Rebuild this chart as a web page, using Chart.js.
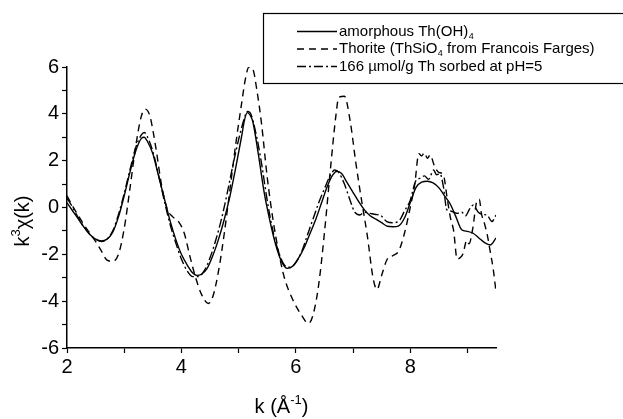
<!DOCTYPE html>
<html>
<head>
<meta charset="utf-8">
<script src="https://cdn.jsdelivr.net/npm/chart.js@4.4.1/dist/chart.umd.min.js"></script>
<style>
  body { margin: 0; background: #fff; }
  #wrap { width: 623px; height: 419px; }
</style>
</head>
<body>
<div id="wrap"><canvas id="exafsChart" width="623" height="419"></canvas></div>
<script>
// k values and k^3 chi(k)
const amorphousK = [2.0, 2.1, 2.2, 2.3, 2.4, 2.5, 2.6, 2.7, 2.8, 2.9, 3.0, 3.1, 3.2, 3.3, 3.35, 3.4, 3.5, 3.6, 3.7, 3.8, 3.9, 4.0, 4.1, 4.2, 4.27, 4.35, 4.45, 4.55, 4.65, 4.75, 4.85, 4.95, 5.05, 5.1, 5.15, 5.2, 5.25, 5.35, 5.45, 5.55, 5.65, 5.75, 5.85, 5.95, 6.05, 6.15, 6.25, 6.35, 6.45, 6.55, 6.65, 6.72, 6.8, 6.9, 7.0, 7.1, 7.2, 7.3, 7.4, 7.5, 7.6, 7.7, 7.8, 7.9, 8.0, 8.1, 8.2, 8.3, 8.4, 8.5, 8.6, 8.7, 8.8, 8.9, 9.0, 9.1, 9.2, 9.3, 9.4, 9.5];
const amorphousY = [0.2, -0.15, -0.5, -0.85, -1.15, -1.35, -1.43, -1.35, -1.05, -0.4, 0.5, 1.5, 2.4, 2.95, 3.0, 2.85, 2.3, 1.35, 0.4, -0.55, -1.35, -2.0, -2.45, -2.8, -2.9, -2.85, -2.6, -2.05, -1.35, -0.5, 0.5, 1.7, 3.0, 3.7, 4.05, 3.95, 3.65, 2.2, 0.6, -0.6, -1.6, -2.3, -2.6, -2.5, -2.15, -1.7, -1.1, -0.5, 0.2, 0.9, 1.4, 1.55, 1.45, 1.05, 0.65, 0.25, -0.1, -0.35, -0.5, -0.65, -0.8, -0.82, -0.78, -0.45, 0.2, 0.85, 1.08, 1.12, 1.05, 0.85, 0.5, 0.15, -0.4, -0.95, -1.02, -1.1, -1.3, -1.5, -1.6, -1.3];

const thoriteK = [2.0, 2.1, 2.2, 2.3, 2.4, 2.5, 2.6, 2.7, 2.8, 2.9, 3.0, 3.1, 3.2, 3.3, 3.37, 3.45, 3.55, 3.65, 3.75, 3.85, 3.95, 4.05, 4.15, 4.25, 4.35, 4.47, 4.55, 4.65, 4.75, 4.85, 4.95, 5.05, 5.12, 5.18, 5.25, 5.32, 5.4, 5.5, 5.6, 5.7, 5.8, 5.95, 6.1, 6.22, 6.3, 6.4, 6.5, 6.6, 6.7, 6.75, 6.85, 6.95, 7.05, 7.15, 7.25, 7.35, 7.42, 7.5, 7.6, 7.7, 7.8, 7.9, 8.0, 8.08, 8.15, 8.2, 8.25, 8.3, 8.35, 8.42, 8.5, 8.58, 8.64, 8.7, 8.76, 8.82, 8.87, 8.92, 8.99, 9.03, 9.09, 9.17, 9.21, 9.24, 9.3, 9.35, 9.4, 9.45, 9.5];
const thoriteY = [0.5, 0.05, -0.35, -0.75, -1.1, -1.45, -1.85, -2.25, -2.3, -2.0, -0.9, 0.8, 2.6, 3.9, 4.2, 3.9, 2.6, 1.0, -0.05, -0.4, -0.6, -1.1, -2.1, -3.0, -3.7, -4.1, -3.8, -2.7, -1.1, 0.8, 2.7, 4.4, 5.5, 6.0, 5.9, 5.0, 3.6, 1.3, -0.5, -1.9, -3.0, -3.95, -4.6, -4.95, -4.6, -3.3, -1.1, 1.5, 3.9, 4.7, 4.75, 3.7, 1.9, 0.3, -1.2, -3.0, -3.5, -2.9, -2.2, -2.05, -1.85, -1.1, 0.0, 1.0, 2.3, 2.2, 2.35, 2.1, 2.25, 1.8, 1.5, 1.4, 0.5, -0.4, -1.0, -2.2, -2.15, -2.0, -1.4, -1.55, -0.95, 0.3, 0.35, -0.2, -0.7, -1.2, -1.9, -2.6, -3.6];

const sorbedK = [2.0, 2.1, 2.2, 2.3, 2.4, 2.5, 2.6, 2.7, 2.8, 2.9, 3.0, 3.1, 3.2, 3.3, 3.35, 3.4, 3.5, 3.6, 3.7, 3.8, 3.9, 4.0, 4.1, 4.2, 4.3, 4.4, 4.5, 4.6, 4.7, 4.8, 4.9, 5.0, 5.1, 5.15, 5.2, 5.3, 5.4, 5.5, 5.6, 5.7, 5.8, 5.9, 6.0, 6.1, 6.2, 6.3, 6.4, 6.5, 6.6, 6.68, 6.75, 6.85, 6.95, 7.03, 7.12, 7.2, 7.3, 7.4, 7.47, 7.59, 7.7, 7.82, 7.9, 8.0, 8.09, 8.17, 8.25, 8.32, 8.41, 8.46, 8.52, 8.58, 8.64, 8.7, 8.82, 8.9, 8.97, 9.03, 9.1, 9.19, 9.27, 9.34, 9.43, 9.5];
const sorbedY = [0.4, 0.0, -0.45, -0.85, -1.15, -1.35, -1.45, -1.35, -1.0, -0.3, 0.6, 1.6, 2.55, 3.1, 3.2, 3.05, 2.4, 1.4, 0.3, -0.7, -1.5, -2.2, -2.7, -2.95, -2.95, -2.7, -2.15, -1.4, -0.5, 0.6, 1.8, 2.9, 3.8, 4.1, 4.05, 3.2, 1.9, 0.3, -1.0, -1.9, -2.45, -2.55, -2.35, -1.9, -1.2, -0.5, 0.2, 0.8, 1.35, 1.6, 1.5, 1.0, 0.3, -0.2, -0.32, -0.2, -0.25, -0.3, -0.32, -0.6, -0.65, -0.53, -0.15, 0.3, 1.1, 1.25, 1.35, 1.2, 1.6, 1.4, 1.45, 0.9, -0.1, -0.15, -0.25, -0.2, -0.35, -0.1, 0.1, -0.2, -0.3, -0.32, -0.6, -0.32];

const seriesNames = ['amorphous Th(OH)', 'Thorite (ThSiO', '166 \u00b5mol/g Th sorbed at pH=5'];
const xTickLabels = [2, 4, 6, 8];
const yTickLabels = [-6, -4, -2, 0, 2, 4, 6];

const FONT = '"Liberation Sans", Arial, sans-serif';
Chart.defaults.font.family = FONT;
Chart.defaults.color = '#000';

const toPoints = (xs, ys) => xs.map((x, i) => ({ x: x, y: ys[i] }));

const dashes = [[], [7, 5], [9, 3, 2, 3]];

// legend and axis titles (with sub/superscripts) drawn on the canvas
const extrasPlugin = {
    id: 'extras',
    afterDraw(chart) {
        const ctx = chart.ctx;
        const area = chart.chartArea;
        ctx.save();
        ctx.fillStyle = '#000';
        ctx.strokeStyle = '#000';

        // legend box, its right edge runs off the picture
        ctx.lineWidth = 1.2;
        ctx.setLineDash([]);
        ctx.strokeRect(263.5, 13.5, 362, 70);

        const rows = [31.5, 49, 66.5];
        const subs = [['4', ''], ['4', ' from Francois Farges)'], null];
        rows.forEach((ry, i) => {
            ctx.lineWidth = 1.3;
            ctx.setLineDash(dashes[i]);
            ctx.beginPath();
            ctx.moveTo(297, ry);
            ctx.lineTo(337, ry);
            ctx.stroke();
            ctx.setLineDash([]);
            ctx.font = '15px ' + FONT;
            ctx.textBaseline = 'middle';
            ctx.textAlign = 'left';
            let x = 339;
            ctx.fillText(seriesNames[i], x, ry);
            x += ctx.measureText(seriesNames[i]).width;
            if (subs[i]) {
                ctx.font = '9px ' + FONT;
                ctx.fillText(subs[i][0], x + 0.5, ry + 5);
                x += ctx.measureText(subs[i][0]).width + 0.5;
                ctx.font = '15px ' + FONT;
                ctx.fillText(subs[i][1], x, ry);
            }
        });

        // x axis title: k (Å^-1)
        ctx.textBaseline = 'alphabetic';
        const big = '20px ' + FONT, small = '13px ' + FONT;
        const xParts = [['k (\u00c5', big, 0], ['-1', small, -9], [')', big, 0]];
        let total = 0;
        xParts.forEach(p => { ctx.font = p[1]; total += ctx.measureText(p[0]).width; });
        let cx = (area.left + area.right) / 2 - total / 2;
        xParts.forEach(p => {
            ctx.font = p[1];
            ctx.fillText(p[0], cx, 413 + p[2]);
            cx += ctx.measureText(p[0]).width;
        });

        // y axis title: k^3 chi(k)
        const yParts = [['k', big, 0], ['3', small, -9], ['\u03c7(k)', big, 0]];
        total = 0;
        yParts.forEach(p => { ctx.font = p[1]; total += ctx.measureText(p[0]).width; });
        ctx.translate(29, 221);
        ctx.rotate(-Math.PI / 2);
        let cy = -total / 2;
        yParts.forEach(p => {
            ctx.font = p[1];
            ctx.fillText(p[0], cy, p[2]);
            cy += ctx.measureText(p[0]).width;
        });
        ctx.restore();
    }
};

const ctx = document.getElementById('exafsChart');
new Chart(ctx, {
    type: 'line',
    data: {
        datasets: [
            { label: seriesNames[0], data: toPoints(amorphousK, amorphousY), borderDash: dashes[0] },
            { label: seriesNames[1], data: toPoints(thoriteK, thoriteY), borderDash: dashes[1] },
            { label: seriesNames[2], data: toPoints(sorbedK, sorbedY), borderDash: dashes[2] },
        ].map(ds => Object.assign(ds, {
            borderColor: '#000',
            backgroundColor: '#000',
            borderWidth: 1.4,
            pointRadius: 0,
            fill: false,
            cubicInterpolationMode: 'monotone',
        })),
    },
    options: {
        responsive: false,
        animation: false,
        layout: { padding: { left: 0, top: 67, right: 127, bottom: 0 } },
        plugins: {
            legend: { display: false },
            title: { display: false },
            tooltip: { enabled: false },
        },
        scales: {
            x: {
                type: 'linear',
                min: 2,
                max: 9.5,
                afterFit: s => { s.height = 71; },
                border: { display: true, color: '#000', width: 1.5 },
                grid: { display: true, drawOnChartArea: false, drawTicks: true, tickLength: 5, tickColor: '#000', tickWidth: 1.2 },
                ticks: {
                    stepSize: 1,
                    includeBounds: false,
                    autoSkip: false,
                    maxRotation: 0,
                    padding: 2,
                    font: { size: 20 },
                    callback: v => xTickLabels.includes(v) ? String(v) : '',
                },
            },
            y: {
                min: -6,
                max: 6,
                afterFit: s => { s.width = 67; },
                border: { display: true, color: '#000', width: 1.5 },
                grid: { display: true, drawOnChartArea: false, drawTicks: true, tickLength: 5, tickColor: '#000', tickWidth: 1.2 },
                ticks: {
                    stepSize: 1,
                    autoSkip: false,
                    padding: 3,
                    font: { size: 20 },
                    callback: v => yTickLabels.includes(v) ? String(v) : '',
                },
            },
        },
    },
    plugins: [extrasPlugin],
});
</script>
</body>
</html>
